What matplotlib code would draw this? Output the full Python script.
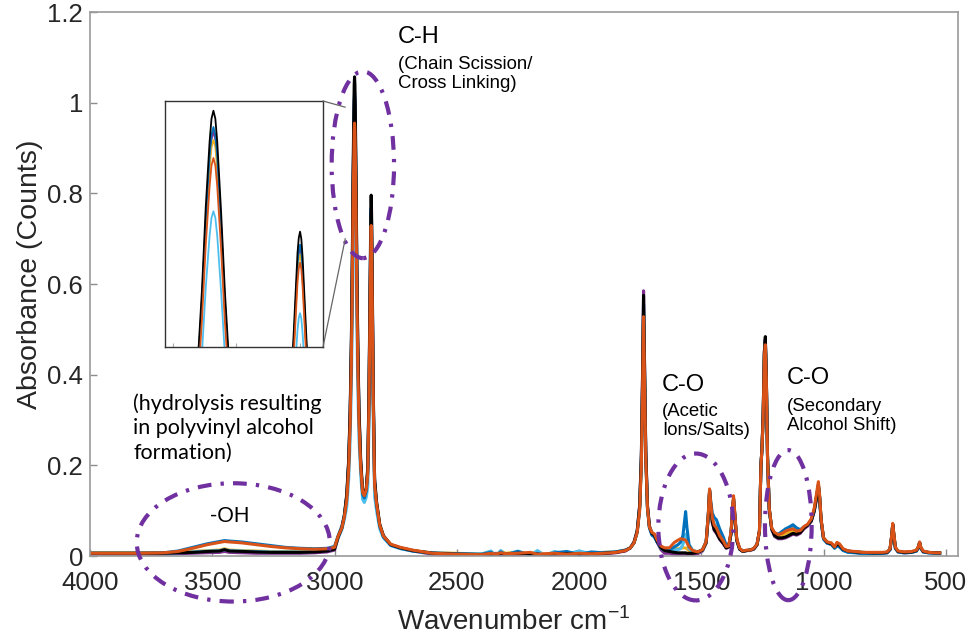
import matplotlib
matplotlib.use("Agg")
import matplotlib.pyplot as plt
from matplotlib.patches import Ellipse, ConnectionPatch
import numpy as np

plt.rcParams["font.family"] = ["Liberation Sans", "DejaVu Sans"]
plt.rcParams["mathtext.fontset"] = "custom"
plt.rcParams["mathtext.rm"] = "Liberation Sans"

# ---------------------------------------------------------------- data
wavenumber = [
    # O-H band
    4000, 3900, 3800, 3700, 3640, 3580, 3520, 3470, 3450, 3430, 3380, 3320, 3260, 3200, 3140, 3080, 3030, 3000,
    # C-H stretch
    2985, 2970, 2960, 2950, 2942, 2936, 2931, 2927, 2924, 2921, 2919.5, 2918, 2916.5, 2915, 2912, 2909, 2905, 2900, 2893, 2885,
    2878, 2870, 2864, 2859, 2855, 2852, 2851, 2850, 2849, 2848, 2845, 2841, 2836, 2828, 2815, 2800, 2770, 2730, 2680,
    # flat / CO2 region
    2600, 2500, 2400, 2360, 2340, 2320, 2300, 2250, 2200, 2170, 2140, 2100, 2050, 2000, 1950, 1900, 1850, 1810,
    # C=O
    1790, 1775, 1762, 1752, 1745, 1740, 1736, 1732, 1727, 1720, 1712, 1702, 1692, 1680, 1665, 1650,
    # acetate / CH2 bending
    1630, 1610, 1595, 1585, 1575, 1568, 1564, 1559, 1550, 1535, 1515, 1495, 1480, 1471, 1466, 1461, 1455, 1447,
    1438, 1425, 1410, 1398, 1388, 1378, 1372, 1368, 1363, 1355, 1343, 1330, 1315,
    # C-O
    1300, 1285, 1272, 1262, 1256, 1252, 1247, 1242, 1238, 1234, 1229, 1222, 1212, 1200, 1185, 1170, 1155, 1140,
    1125, 1110, 1095, 1080, 1065, 1050, 1038, 1028, 1021, 1016, 1010, 1000, 985, 968, 955, 945, 935, 920, 900,
    # fingerprint tail
    870, 840, 800, 760, 740, 728, 721, 717, 713, 706, 695, 670, 640, 620, 612, 607, 602, 592, 570, 545, 525,
]

abs_black = [
    0.006, 0.006, 0.006, 0.006, 0.007, 0.008, 0.010, 0.011, 0.014, 0.011, 0.010, 0.009, 0.008, 0.008, 0.008, 0.009, 0.011, 0.015,
    0.042, 0.062, 0.088, 0.136, 0.213, 0.323, 0.480, 0.670, 0.850, 0.990, 1.040, 1.057, 1.040, 0.990, 0.840, 0.667, 0.480, 0.327, 0.213, 0.144,
    0.135, 0.150, 0.196, 0.365, 0.577, 0.750, 0.783, 0.796, 0.780, 0.740, 0.565, 0.350, 0.170, 0.120, 0.070, 0.045, 0.025, 0.018, 0.012,
    0.006, 0.004, 0.003, 0.004, 0.003, 0.005, 0.004, 0.006, 0.005, 0.004, 0.002, 0.004, 0.005, 0.004, 0.005, 0.006, 0.008, 0.012,
    0.018, 0.030, 0.055, 0.110, 0.220, 0.400, 0.575, 0.420, 0.230, 0.110, 0.065, 0.050, 0.046, 0.032, 0.018, 0.012,
    0.010, 0.008, 0.007, 0.007, 0.007, 0.007, 0.007, 0.006, 0.006, 0.006, 0.008, 0.013, 0.030, 0.090, 0.145, 0.110, 0.075, 0.058,
    0.052, 0.038, 0.028, 0.018, 0.020, 0.050, 0.100, 0.125, 0.090, 0.035, 0.015, 0.010, 0.012,
    0.013, 0.016, 0.025, 0.055, 0.200, 0.235, 0.310, 0.450, 0.484, 0.400, 0.220, 0.105, 0.060, 0.045, 0.040, 0.040, 0.042, 0.046,
    0.050, 0.048, 0.052, 0.062, 0.068, 0.078, 0.100, 0.130, 0.155, 0.130, 0.080, 0.040, 0.030, 0.027, 0.020, 0.026, 0.024, 0.015, 0.011,
    0.009, 0.008, 0.007, 0.007, 0.008, 0.015, 0.045, 0.070, 0.050, 0.018, 0.010, 0.008, 0.009, 0.012, 0.020, 0.030, 0.018, 0.010, 0.008, 0.007, 0.007,
]

abs_purple = [
    0.004, 0.004, 0.004, 0.004, 0.005, 0.006, 0.007, 0.008, 0.010, 0.008, 0.007, 0.006, 0.006, 0.006, 0.006, 0.007, 0.009, 0.013,
    0.041, 0.061, 0.086, 0.130, 0.204, 0.309, 0.459, 0.641, 0.813, 0.947, 0.995, 1.012, 0.995, 0.947, 0.804, 0.638, 0.459, 0.313, 0.205, 0.140,
    0.132, 0.147, 0.187, 0.349, 0.551, 0.716, 0.748, 0.760, 0.745, 0.707, 0.540, 0.334, 0.162, 0.115, 0.067, 0.043, 0.024, 0.017, 0.011,
    0.004, 0.003, 0.002, 0.001, 0.006, 0.000, 0.005, 0.002, 0.006, 0.001, 0.004, 0.002, 0.003, 0.005, 0.002, 0.005, 0.007, 0.011,
    0.018, 0.031, 0.056, 0.112, 0.225, 0.410, 0.585, 0.430, 0.235, 0.112, 0.066, 0.050, 0.045, 0.030, 0.014, 0.006,
    0.006, 0.003, 0.002, 0.002, 0.002, 0.002, 0.002, 0.002, 0.002, 0.003, 0.005, 0.011, 0.028, 0.088, 0.142, 0.108, 0.074, 0.057,
    0.050, 0.037, 0.027, 0.017, 0.019, 0.050, 0.100, 0.125, 0.090, 0.035, 0.015, 0.010, 0.012,
    0.012, 0.015, 0.024, 0.054, 0.200, 0.235, 0.310, 0.450, 0.478, 0.400, 0.220, 0.103, 0.058, 0.043, 0.038, 0.038, 0.040, 0.044,
    0.048, 0.046, 0.050, 0.060, 0.066, 0.076, 0.098, 0.128, 0.152, 0.128, 0.078, 0.039, 0.029, 0.026, 0.019, 0.025, 0.023, 0.014, 0.010,
    0.008, 0.007, 0.006, 0.006, 0.007, 0.014, 0.044, 0.069, 0.049, 0.017, 0.009, 0.007, 0.008, 0.011, 0.019, 0.029, 0.017, 0.009, 0.007, 0.006, 0.006,
]

abs_yellow = [
    0.007, 0.007, 0.007, 0.007, 0.008, 0.010, 0.012, 0.013, 0.016, 0.013, 0.012, 0.011, 0.010, 0.010, 0.010, 0.011, 0.013, 0.017,
    0.042, 0.062, 0.087, 0.128, 0.200, 0.304, 0.451, 0.630, 0.799, 0.931, 0.978, 0.994, 0.978, 0.931, 0.790, 0.627, 0.451, 0.307, 0.203, 0.139,
    0.131, 0.146, 0.184, 0.342, 0.541, 0.704, 0.735, 0.747, 0.732, 0.694, 0.530, 0.328, 0.159, 0.115, 0.068, 0.044, 0.025, 0.018, 0.012,
    0.007, 0.006, 0.004, 0.010, 0.002, 0.011, 0.006, 0.009, 0.004, 0.010, 0.003, 0.008, 0.006, 0.009, 0.004, 0.008, 0.009, 0.013,
    0.018, 0.029, 0.053, 0.105, 0.210, 0.380, 0.545, 0.400, 0.220, 0.107, 0.064, 0.050, 0.046, 0.032, 0.018, 0.014,
    0.014, 0.016, 0.016, 0.017, 0.018, 0.018, 0.018, 0.016, 0.012, 0.008, 0.008, 0.013, 0.030, 0.090, 0.143, 0.110, 0.078, 0.062,
    0.056, 0.041, 0.030, 0.019, 0.020, 0.052, 0.104, 0.128, 0.092, 0.036, 0.016, 0.011, 0.012,
    0.013, 0.016, 0.025, 0.055, 0.200, 0.234, 0.305, 0.445, 0.474, 0.395, 0.218, 0.104, 0.061, 0.049, 0.044, 0.046, 0.050, 0.053,
    0.056, 0.052, 0.054, 0.063, 0.069, 0.080, 0.102, 0.135, 0.158, 0.132, 0.080, 0.040, 0.030, 0.028, 0.020, 0.028, 0.025, 0.015, 0.011,
    0.009, 0.008, 0.007, 0.007, 0.008, 0.015, 0.045, 0.069, 0.050, 0.018, 0.010, 0.008, 0.009, 0.012, 0.020, 0.030, 0.018, 0.010, 0.008, 0.007, 0.007,
]

abs_lightblue = [
    0.006, 0.006, 0.006, 0.006, 0.007, 0.009, 0.011, 0.012, 0.014, 0.012, 0.011, 0.010, 0.009, 0.009, 0.009, 0.010, 0.012, 0.016,
    0.040, 0.058, 0.080, 0.108, 0.169, 0.257, 0.382, 0.533, 0.676, 0.787, 0.826, 0.840, 0.826, 0.787, 0.668, 0.530, 0.382, 0.260, 0.180, 0.125,
    0.118, 0.130, 0.153, 0.284, 0.449, 0.584, 0.610, 0.620, 0.608, 0.576, 0.440, 0.273, 0.132, 0.100, 0.060, 0.040, 0.023, 0.016, 0.011,
    0.006, 0.005, 0.004, 0.011, 0.000, 0.012, 0.002, 0.011, 0.001, 0.012, 0.001, 0.010, 0.004, 0.011, 0.005, 0.008, 0.009, 0.013,
    0.018, 0.029, 0.053, 0.105, 0.210, 0.380, 0.540, 0.400, 0.218, 0.105, 0.063, 0.048, 0.044, 0.031, 0.017, 0.012,
    0.012, 0.013, 0.014, 0.016, 0.025, 0.040, 0.048, 0.035, 0.016, 0.009, 0.008, 0.013, 0.030, 0.090, 0.140, 0.110, 0.082, 0.070,
    0.065, 0.048, 0.035, 0.020, 0.020, 0.050, 0.100, 0.123, 0.089, 0.035, 0.015, 0.010, 0.012,
    0.013, 0.016, 0.025, 0.055, 0.200, 0.232, 0.300, 0.440, 0.468, 0.390, 0.215, 0.103, 0.060, 0.050, 0.047, 0.052, 0.058, 0.062,
    0.066, 0.060, 0.057, 0.064, 0.068, 0.079, 0.100, 0.133, 0.156, 0.130, 0.078, 0.038, 0.029, 0.026, 0.018, 0.024, 0.022, 0.013, 0.009,
    0.008, 0.006, 0.006, 0.006, 0.007, 0.014, 0.044, 0.068, 0.049, 0.017, 0.009, 0.007, 0.008, 0.011, 0.019, 0.029, 0.017, 0.009, 0.007, 0.006, 0.006,
]

abs_blue = [
    0.006, 0.006, 0.006, 0.007, 0.011, 0.019, 0.027, 0.032, 0.034, 0.033, 0.031, 0.027, 0.023, 0.019, 0.017, 0.016, 0.017, 0.021,
    0.045, 0.066, 0.090, 0.132, 0.206, 0.312, 0.464, 0.648, 0.822, 0.957, 1.005, 1.022, 1.005, 0.957, 0.812, 0.645, 0.464, 0.316, 0.203, 0.136,
    0.128, 0.143, 0.189, 0.352, 0.557, 0.724, 0.756, 0.768, 0.753, 0.714, 0.545, 0.338, 0.164, 0.112, 0.066, 0.042, 0.024, 0.017, 0.011,
    0.007, 0.005, 0.004, 0.008, 0.001, 0.009, 0.003, 0.010, 0.002, 0.006, 0.000, 0.007, 0.010, 0.003, 0.009, 0.007, 0.009, 0.013,
    0.018, 0.029, 0.053, 0.105, 0.210, 0.385, 0.555, 0.405, 0.220, 0.105, 0.062, 0.046, 0.042, 0.030, 0.018, 0.014,
    0.014, 0.020, 0.025, 0.030, 0.045, 0.080, 0.098, 0.065, 0.025, 0.012, 0.009, 0.014, 0.032, 0.095, 0.145, 0.120, 0.095, 0.085,
    0.080, 0.060, 0.042, 0.024, 0.021, 0.052, 0.103, 0.128, 0.092, 0.036, 0.016, 0.011, 0.012,
    0.013, 0.016, 0.026, 0.055, 0.200, 0.233, 0.305, 0.445, 0.475, 0.395, 0.217, 0.103, 0.060, 0.050, 0.048, 0.054, 0.060, 0.064,
    0.069, 0.062, 0.058, 0.064, 0.068, 0.079, 0.100, 0.135, 0.158, 0.130, 0.078, 0.037, 0.028, 0.026, 0.017, 0.022, 0.020, 0.012, 0.008,
    0.007, 0.005, 0.005, 0.006, 0.007, 0.014, 0.043, 0.068, 0.048, 0.017, 0.009, 0.007, 0.008, 0.011, 0.019, 0.029, 0.017, 0.009, 0.007, 0.006, 0.006,
]

abs_orange = [
    0.006, 0.006, 0.006, 0.007, 0.010, 0.017, 0.025, 0.030, 0.032, 0.031, 0.029, 0.025, 0.021, 0.018, 0.016, 0.015, 0.016, 0.019,
    0.044, 0.062, 0.086, 0.123, 0.192, 0.292, 0.433, 0.605, 0.768, 0.894, 0.939, 0.955, 0.939, 0.894, 0.759, 0.602, 0.433, 0.295, 0.198, 0.140,
    0.133, 0.147, 0.180, 0.334, 0.529, 0.687, 0.717, 0.729, 0.715, 0.678, 0.518, 0.321, 0.156, 0.115, 0.068, 0.044, 0.026, 0.019, 0.013,
    0.006, 0.004, 0.003, 0.006, 0.004, 0.007, 0.005, 0.006, 0.008, 0.004, 0.005, 0.006, 0.004, 0.006, 0.005, 0.006, 0.008, 0.012,
    0.018, 0.029, 0.052, 0.100, 0.200, 0.370, 0.528, 0.390, 0.215, 0.105, 0.064, 0.052, 0.049, 0.035, 0.022, 0.018,
    0.018, 0.030, 0.035, 0.038, 0.037, 0.036, 0.035, 0.030, 0.020, 0.012, 0.009, 0.014, 0.032, 0.095, 0.148, 0.115, 0.085, 0.068,
    0.062, 0.045, 0.033, 0.021, 0.022, 0.055, 0.108, 0.133, 0.095, 0.038, 0.017, 0.011, 0.013,
    0.013, 0.017, 0.026, 0.056, 0.200, 0.232, 0.300, 0.440, 0.466, 0.390, 0.215, 0.105, 0.062, 0.052, 0.047, 0.050, 0.055, 0.058,
    0.060, 0.055, 0.056, 0.065, 0.070, 0.082, 0.105, 0.140, 0.164, 0.135, 0.082, 0.040, 0.031, 0.029, 0.020, 0.030, 0.027, 0.016, 0.011,
    0.010, 0.008, 0.008, 0.008, 0.009, 0.016, 0.047, 0.072, 0.052, 0.019, 0.011, 0.009, 0.010, 0.013, 0.021, 0.031, 0.019, 0.011, 0.008, 0.007, 0.007,
]

# drawing order: last one ends up on top
spectra = [
    (abs_purple, "#7E2F8E"),
    (abs_yellow, "#EDB120"),
    (abs_lightblue, "#4DBEEE"),
    (abs_blue, "#0072BD"),
    (abs_black, "#000000"),
    (abs_orange, "#D95319"),
]

x_ticks = [4000, 3500, 3000, 2500, 2000, 1500, 1000, 500]
y_ticks = [0, 0.2, 0.4, 0.6, 0.8, 1.0, 1.2]
y_tick_labels = ["0", "0.2", "0.4", "0.6", "0.8", "1", "1.2"]

# ---------------------------------------------------------------- figure
W, H = 973, 638
fig = plt.figure(figsize=(W / 100, H / 100), dpi=100)
ax = fig.add_axes([90 / W, 82 / H, 868 / W, 544 / H])

wn = np.array(wavenumber)
for values, color in spectra:
    assert len(values) == len(wn)
    ax.plot(wn, values, color=color, lw=2.2, solid_joinstyle="round")

ax.set_xlim(4000, 450)
ax.set_ylim(0, 1.2)
ax.set_xticks(x_ticks)
ax.set_xticklabels([str(t) for t in x_ticks])
ax.set_yticks(y_ticks)
ax.set_yticklabels(y_tick_labels)
ax.tick_params(direction="in", length=5, width=1, color="#8c8c8c",
               labelcolor="#262626", labelsize=18.5)
ax.tick_params(axis="x", pad=11)
ax.tick_params(axis="y", pad=5)
for sp in ax.spines.values():
    sp.set_color("#9a9a9a")
    sp.set_linewidth(1.2)

fig.text(30 / W, 1 - 274 / H, "Absorbance (Counts)", rotation=90,
         ha="center", va="center", fontsize=20.5, color="#262626")
fig.text(397 / W, 1 - 630 / H, r"Wavenumber cm$^{\mathregular{-1}}$",
         ha="left", va="baseline", fontsize=20, color="#262626")

# ---------------------------------------------------------------- highlighted regions
purple = "#7030A0"
dashdot = (0, (3.3, 2.2, 0.8, 2.2))
regions = [  # (centre wavenumber, centre absorbance, width, height)
    (3414, 0.030, 790, 0.261),
    (2884, 0.863, 255, 0.412),
    (1522, 0.064, 307, 0.324),
    (1144, 0.068, 191, 0.331),
]
for cx, cy, w, h in regions:
    ax.add_patch(Ellipse((cx, cy), w, h, fill=False, edgecolor=purple, lw=3,
                         linestyle=dashdot, capstyle="butt", clip_on=False,
                         zorder=5))

# ---------------------------------------------------------------- labels
def label(x, y, s, size, **kw):
    fig.text(x / W, 1 - y / H, s, fontsize=size, va="center", ha="left",
             color="black", **kw)

label(398, 37, "C-H", 17)
label(398, 74, "(Chain Scission/\nCross Linking)", 13.4, linespacing=1.17)
label(662, 385, "C-O", 17)
label(662, 421, "(Acetic\nIons/Salts)", 13.4, linespacing=1.17)
label(787, 378, "C-O", 17)
label(787, 416, "(Secondary\nAlcohol Shift)", 13.4, linespacing=1.17)
label(210, 517, "-OH", 15.5)
label(133, 428, "(hydrolysis resulting\nin polyvinyl alcohol\nformation)", 15.5,
      linespacing=1.27, family=["Lato", "DejaVu Sans"])

# ---------------------------------------------------------------- inset on the C-H doublet
axins = fig.add_axes([165 / W, (H - 347) / H, 158 / W, 246 / H])
for values, color in spectra:
    axins.plot(wn, values, color=color, lw=1.3)
axins.set_xlim(2956, 2832)
axins.set_ylim(0.547, 1.078)
axins.set_xticks([2950, 2900, 2850])
axins.set_xticklabels([])
axins.set_yticks([])
axins.tick_params(direction="in", length=3, width=0.8, color="#aaaaaa")
for sp in axins.spines.values():
    sp.set_color("#333333")
    sp.set_linewidth(1.0)

for corner, target in [((1, 1), (2956, 0.99)), ((1, 0), (2956, 0.70))]:
    fig.add_artist(ConnectionPatch(xyA=corner, coordsA=axins.transAxes,
                                   xyB=target, coordsB=ax.transData,
                                   color="#666666", lw=0.9))

fig.savefig("out.png", dpi=100)
